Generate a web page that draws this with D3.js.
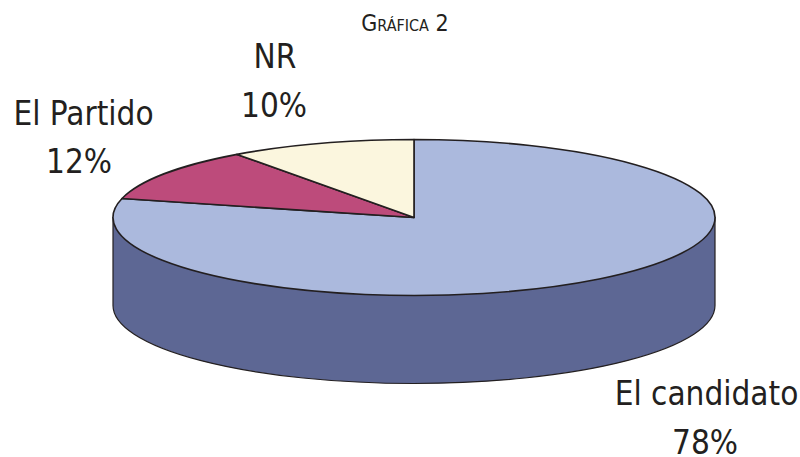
<!DOCTYPE html>
<html>
<head>
<meta charset="utf-8">
<script src="https://cdn.jsdelivr.net/npm/d3@7"></script>
<style>
  html, body { margin: 0; background: #fff; }
  text { font-family: "DejaVu Sans Condensed", "DejaVu Sans", sans-serif; fill: #231f20; }
</style>
</head>
<body>
<svg id="chart"></svg>
<script>
const categories = ["El candidato", "El Partido", "NR"];
// slice sizes as drawn in the picture, the printed labels round differently
const sliceShares = [78.9, 11.1, 10];
const percentLabels = ["78%", "12%", "10%"];
const colors = ["#abb9dd", "#bd4b7b", "#fbf6de"];

const width = 800;
const height = 457;
const pieCenter = { x: 414, y: 217.5 };
const radiusX = 301;
const radiusY = 78;
const depth = 88;
const outline = "#231f20";
const lineGap = 48.5;

const labelSpots = [
  { x: 706.5, y: 405, percentX: 705 },
  { x: 83.5, y: 124.5, percentX: 79 },
  { x: 275, y: 68, percentX: 274 },
];

const svg = d3.select("#chart").attr("width", width).attr("height", height);
svg.style("display", "block");

svg
  .append("text")
  .attr("x", 405)
  .attr("y", 31)
  .attr("text-anchor", "middle")
  .attr("font-size", 23)
  .style("font-variant", "small-caps")
  .text("Gráfica 2");

// side wall of the cylinder
svg
  .append("path")
  .attr(
    "d",
    `M${pieCenter.x - radiusX},${pieCenter.y}
     V${pieCenter.y + depth}
     A${radiusX},${radiusY} 0 0 0 ${pieCenter.x + radiusX},${pieCenter.y + depth}
     V${pieCenter.y} Z`
  )
  .attr("fill", "#5d6794")
  .attr("stroke", outline)
  .attr("stroke-width", 1.2);

const pie = d3.pie().sort(null);
const arc = d3.arc().innerRadius(0).outerRadius(1);

svg
  .append("g")
  .attr("transform", `translate(${pieCenter.x}, ${pieCenter.y}) scale(${radiusX}, ${radiusY})`)
  .selectAll("path")
  .data(pie(sliceShares))
  .join("path")
  .attr("d", arc)
  .attr("fill", (d, i) => colors[i])
  .attr("stroke", outline)
  .attr("stroke-width", 1.6)
  .attr("vector-effect", "non-scaling-stroke")
  .attr("stroke-linejoin", "round");

const labels = svg
  .selectAll(".label")
  .data(categories)
  .join("text")
  .attr("class", "label")
  .attr("text-anchor", "middle")
  .attr("font-size", 33);

labels
  .append("tspan")
  .attr("x", (d, i) => labelSpots[i].x)
  .attr("y", (d, i) => labelSpots[i].y)
  .text((d) => d);

labels
  .append("tspan")
  .attr("x", (d, i) => labelSpots[i].percentX)
  .attr("y", (d, i) => labelSpots[i].y + lineGap)
  .text((d, i) => percentLabels[i]);
</script>
</body>
</html>
